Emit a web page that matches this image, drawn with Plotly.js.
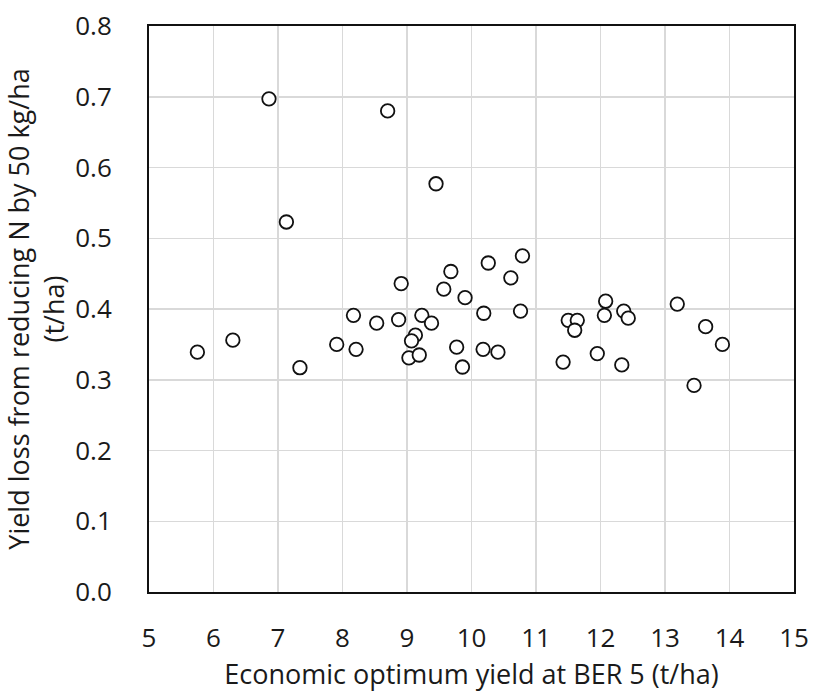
<!DOCTYPE html>
<html>
<head>
<meta charset="utf-8">
<script src="https://cdn.plot.ly/plotly-3.0.1.min.js"></script>
<style>html,body{margin:0;padding:0;background:#fff;}#chart{width:813px;height:693px;}</style>
</head>
<body>
<div id="chart"></div>
<script>
const optimumYield = [6.86, 8.70, 9.45, 7.13, 9.68, 8.91, 9.57,
  5.75, 6.30, 7.34, 7.91, 8.17, 8.21, 8.53, 8.87, 9.23, 9.38, 9.13, 9.07, 9.03, 9.19, 9.77, 9.86, 9.90,
  10.26, 10.79, 10.61, 10.19, 10.76, 10.18, 10.41, 11.50, 11.64, 11.60, 11.42, 12.08, 12.06, 12.36, 12.43,
  11.95, 12.33, 13.19, 13.63, 13.89, 13.45];
const yieldLoss = [0.697, 0.680, 0.577, 0.523, 0.453, 0.436, 0.428,
  0.339, 0.356, 0.317, 0.350, 0.391, 0.343, 0.380, 0.385, 0.391, 0.380, 0.363, 0.355, 0.331, 0.335, 0.346, 0.318, 0.416,
  0.465, 0.475, 0.444, 0.394, 0.397, 0.343, 0.339, 0.384, 0.384, 0.370, 0.325, 0.411, 0.391, 0.397, 0.387,
  0.337, 0.321, 0.407, 0.375, 0.350, 0.292];
const xTicks = [5, 6, 7, 8, 9, 10, 11, 12, 13, 14, 15];
const yTicks = [0, 0.1, 0.2, 0.3, 0.4, 0.5, 0.6, 0.7, 0.8];
const yTickText = ['0.0', '0.1', '0.2', '0.3', '0.4', '0.5', '0.6', '0.7', '0.8'];
const xTitle = 'Economic optimum yield at BER 5 (t/ha)';
const yTitle = 'Yield loss from reducing N by 50 kg/ha<br>(t/ha)';

const font = {family: '"Open Sans", sans-serif', size: 26, color: '#1a1a1a'};
const titleFont = {family: '"Open Sans", sans-serif', size: 27, color: '#1a1a1a'};

Plotly.newPlot('chart', [{
  type: 'scatter', mode: 'markers',
  x: optimumYield, y: yieldLoss,
  marker: {symbol: 'circle', size: 13.5, color: '#ffffff', line: {color: '#111', width: 1.8}},
  showlegend: false, hoverinfo: 'x+y'
}], {
  width: 813, height: 693,
  margin: {l: 149, r: 19, t: 26, b: 101},
  paper_bgcolor: '#fff', plot_bgcolor: '#fff',
  font: font,
  xaxis: {
    range: [5, 15], tickvals: xTicks, ticktext: xTicks.map(String),
    showgrid: true, gridcolor: '#d9d9d9', gridwidth: 1.5,
    showline: true, linecolor: '#111', linewidth: 2, mirror: true,
    zeroline: false, ticks: '', ticklabelstandoff: 22,
    tickfont: font,
    title: {text: xTitle, font: titleFont, standoff: 4}
  },
  yaxis: {
    range: [0, 0.8], tickvals: yTicks, ticktext: yTickText,
    showgrid: true, gridcolor: '#d9d9d9', gridwidth: 1.5,
    showline: true, linecolor: '#111', linewidth: 2, mirror: true,
    zeroline: false, ticks: '', ticklabelstandoff: 30,
    tickfont: font,
    title: {text: yTitle, font: titleFont, standoff: 4}
  }
}, {displayModeBar: false, staticPlot: true});
</script>
</body>
</html>
